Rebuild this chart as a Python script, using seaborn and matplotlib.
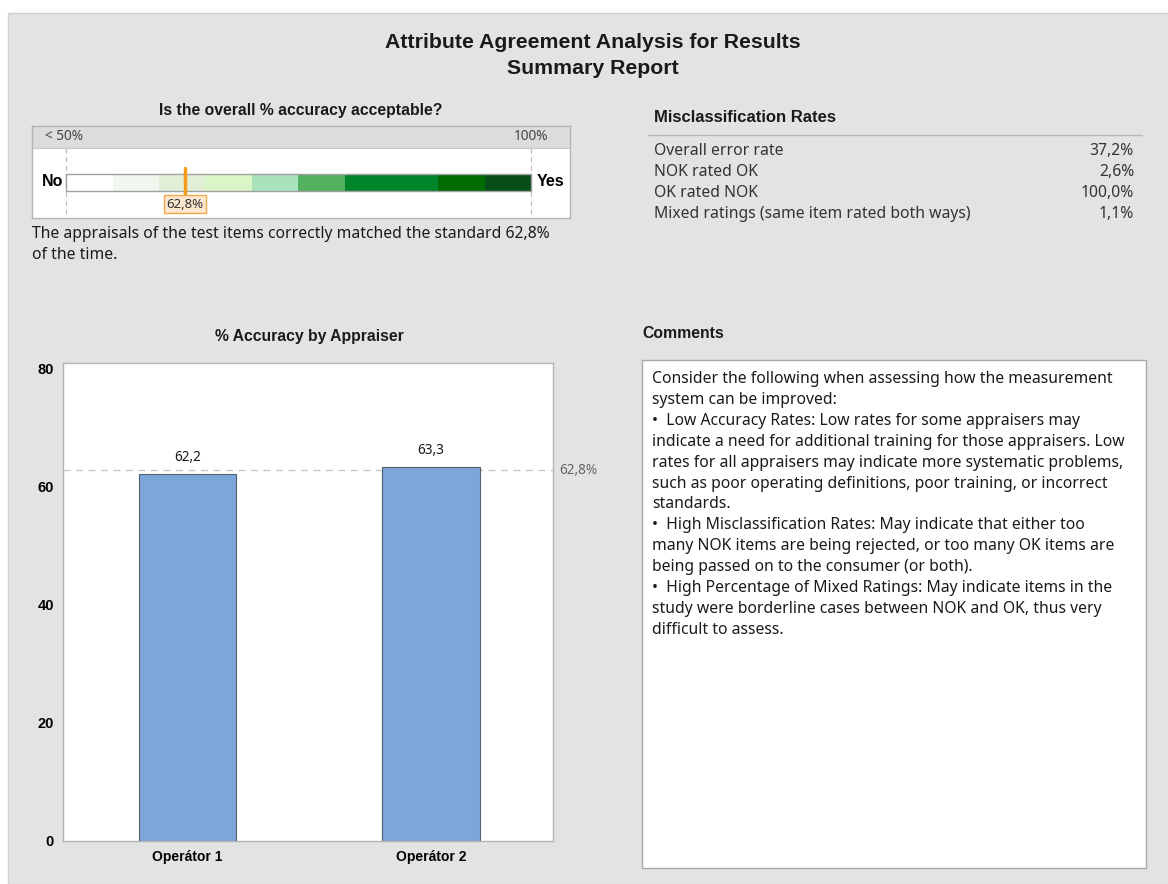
import numpy as np
import pandas as pd
import seaborn as sns
import matplotlib.pyplot as plt
from matplotlib.patches import Rectangle
from matplotlib.transforms import blended_transform_factory

# --- dati ---
operators = ["Operátor 1", "Operátor 2"]
accuracy = [62.2, 63.3]
overall_accuracy = 62.8

gauge_edges = [50, 55, 60, 65, 70, 75, 80, 90, 95, 100]
gauge_colors = ["#ffffff", "#f0f7ee", "#e1efd7", "#daf5c6", "#a8e3bd",
                "#52b05e", "#00852a", "#006b00", "#064d17"]

misclass_labels = ["Overall error rate", "NOK rated OK", "OK rated NOK",
                   "Mixed ratings (same item rated both ways)"]
misclass_values = ["37,2%", "2,6%", "100,0%", "1,1%"]

comment_lines = [
    "Consider the following when assessing how the measurement",
    "system can be improved:",
    "\u2022  Low Accuracy Rates: Low rates for some appraisers may",
    "indicate a need for additional training for those appraisers. Low",
    "rates for all appraisers may indicate more systematic problems,",
    "such as poor operating definitions, poor training, or incorrect",
    "standards.",
    "\u2022  High Misclassification Rates: May indicate that either too",
    "many NOK items are being rejected, or too many OK items are",
    "being passed on to the consumer (or both).",
    "\u2022  High Percentage of Mixed Ratings: May indicate items in the",
    "study were borderline cases between NOK and OK, thus very",
    "difficult to assess.",
]

W, H = 1168, 884
BG = "#e3e3e3"
TXT = "#1a1a1a"
BOLD = ['Liberation Sans', 'DejaVu Sans']
FS = 11.3

sns.set_style("white")
plt.rcParams['font.family'] = ['Noto Sans', 'DejaVu Sans']


def box(x0, y0, x1, y1):
    return [x0 / W, 1 - y1 / H, (x1 - x0) / W, (y1 - y0) / H]


def ftext(x, y, s, **kw):
    kw.setdefault("color", TXT)
    kw.setdefault("va", "center")
    fig.text(x / W, 1 - y / H, s, **kw)


fig = plt.figure(figsize=(W / 100, H / 100), dpi=100, facecolor="white")
fig.patches.append(Rectangle((8 / W, 0), 1, 1 - 13 / H, transform=fig.transFigure,
                             facecolor=BG, edgecolor="#d0d0d0", lw=1, zorder=-10))

# --- titoli ---
ftext(593, 42, "Attribute Agreement Analysis for Results", ha="center", fontsize=15.3,
      fontweight="bold", family=BOLD)
ftext(593, 68, "Summary Report", ha="center", fontsize=15.3, fontweight="bold", family=BOLD)

# --- indicatore accuratezza ---
ftext(301, 110, "Is the overall % accuracy acceptable?", ha="center", fontsize=11.3,
      fontweight="bold", family=BOLD)
ax_g = fig.add_axes(box(32, 126, 570, 218))
ppu = (531 - 66) / 50
ax_g.set_xlim(50 - (66 - 32) / ppu, 100 + (570 - 531) / ppu)
ax_g.set_ylim(218, 126)
ax_g.set_facecolor("white")
ax_g.axhspan(126, 148, color="#dcdcdc", lw=0, zorder=0)
ax_g.axhline(148, color="#c8c8c8", lw=0.8)
lefts = gauge_edges[:-1]
widths = np.diff(gauge_edges)
ax_g.barh([182.5] * len(lefts), widths, left=lefts, height=17, color=gauge_colors,
          lw=0, zorder=2)
ax_g.plot([50, 100], [174, 174], color="#a0a0a0", lw=1, zorder=3)
ax_g.plot([50, 100], [191, 191], color="#a0a0a0", lw=1, zorder=3)
for xv in [50, 100]:
    ax_g.plot([xv, xv], [148, 218], color="#c0c0c0", lw=0.9, ls=(0, (4, 3)), zorder=1)
    ax_g.plot([xv, xv], [174, 191], color="#a0a0a0", lw=1, zorder=3)
ax_g.text(50 - 21 / ppu, 137, "< 50%", fontsize=9.8, color="#444444", va="center")
ax_g.text(100 + 17 / ppu, 137, "100%", fontsize=9.8, color="#444444", va="center", ha="right")
ax_g.plot([overall_accuracy, overall_accuracy], [168, 204], color="#f39c1c", lw=2.5, zorder=4)
ax_g.text(overall_accuracy, 204, f"{overall_accuracy:.1f}%".replace(".", ","), fontsize=9.5,
          color="#333333", ha="center", va="center", zorder=5,
          bbox=dict(boxstyle="square,pad=0.2", facecolor="#fde8cf", edgecolor="#f3a84a", lw=1))
ax_g.text(50 - 3 / ppu, 182, "No", fontsize=11.5, fontweight="bold", family=BOLD,
          ha="right", va="center", color="black")
ax_g.text(100 + 6 / ppu, 182, "Yes", fontsize=11.5, fontweight="bold", family=BOLD,
          ha="left", va="center", color="black")
ax_g.set_xticks([])
ax_g.set_yticks([])
for s in ax_g.spines.values():
    s.set_edgecolor("#b4b4b4")
    s.set_linewidth(1)

ftext(32, 234, "The appraisals of the test items correctly matched the standard 62,8%", fontsize=FS)
ftext(32, 255, "of the time.", fontsize=FS)

# --- misclassification ---
ftext(654, 117, "Misclassification Rates", fontsize=12, fontweight="bold", family=BOLD)
fig.add_artist(plt.Line2D([648 / W, 1142 / W], [1 - 135 / H] * 2, color="#b8b8b8", lw=1))
for i, (lab, val) in enumerate(zip(misclass_labels, misclass_values)):
    y = 151 + i * 21
    ftext(654, y, lab, fontsize=FS, color="#333333")
    ftext(1134, y, val, fontsize=FS, color="#333333", ha="right")

# --- accuratezza per operatore ---
ftext(309, 336, "% Accuracy by Appraiser", ha="center", fontsize=11.3, fontweight="bold", family=BOLD)
ax = fig.add_axes(box(63, 363, 553, 841))
df = pd.DataFrame({"Operator": operators, "Accuracy": accuracy})
sns.barplot(data=df, x="Operator", y="Accuracy", color="#7da7d9", saturation=1,
            edgecolor="#55606e", linewidth=0.8, width=0.4, ax=ax, zorder=2)
ax.set_xlim(-0.51, 1.5)
ax.set_ylim(0, 81)
ax.set_yticks([0, 20, 40, 60, 80])
ax.set_facecolor("white")
ax.set_xlabel("")
ax.set_ylabel("")
ax.axhline(overall_accuracy, color="#c8c8c8", lw=1, ls=(0, (5, 4)), zorder=1)
trans = blended_transform_factory(ax.transAxes, ax.transData)
ax.text(1.013, overall_accuracy, "62,8%", transform=trans, fontsize=9.8,
        color="#666666", va="center", ha="left")
for i, v in enumerate(accuracy):
    ax.text(i, v + 2.8, f"{v:.1f}".replace(".", ","), ha="center", va="center",
            fontsize=9.8, color=TXT)
ax.tick_params(axis="y", length=3, color="#a0a0a0", labelsize=10.5, labelcolor="black")
ax.tick_params(axis="x", length=3, color="#a0a0a0", labelsize=10, labelcolor="black")
for lab in ax.get_yticklabels() + ax.get_xticklabels():
    lab.set_fontweight("bold")
    lab.set_family(BOLD)
for s in ax.spines.values():
    s.set_edgecolor("#b4b4b4")
    s.set_linewidth(1)

# --- commenti ---
ftext(642, 334, "Comments", fontsize=11.3, fontweight="bold", family=BOLD)
fig.patches.append(Rectangle((642 / W, 1 - 868 / H), (1146 - 642) / W, (868 - 360) / H,
                             transform=fig.transFigure, facecolor="white",
                             edgecolor="#a8a8a8", lw=1, zorder=1))
for i, line in enumerate(comment_lines):
    ftext(652, 379 + i * 20.9, line, fontsize=FS, color=TXT, zorder=2)

fig.savefig("out.png", dpi=100, facecolor="white")
